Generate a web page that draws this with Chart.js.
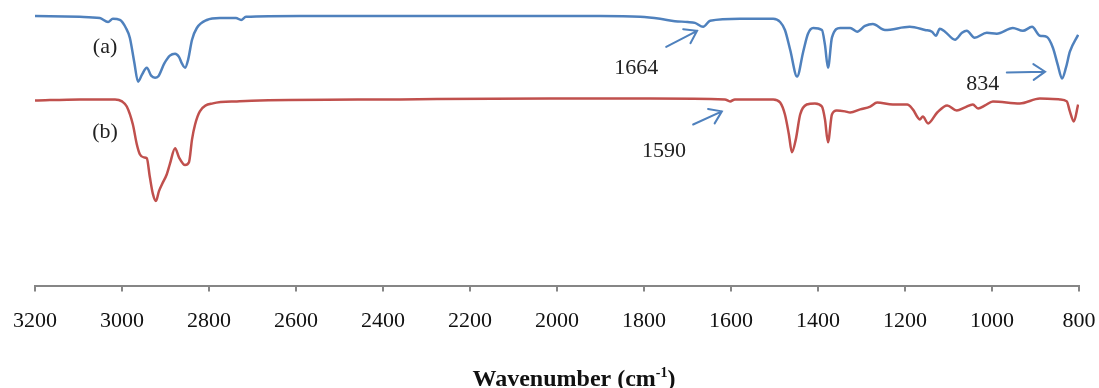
<!DOCTYPE html>
<html>
<head>
<meta charset="utf-8">
<script src="https://cdn.jsdelivr.net/npm/chart.js@4.4.1/dist/chart.umd.min.js"></script>
<style>
  html, body { margin: 0; padding: 0; background: #ffffff; }
  #wrap { width: 1099px; height: 388px; position: relative; }
</style>
</head>
<body>
<div id="wrap"><canvas id="c" width="1099" height="388"></canvas></div>
<script>
// ---- Data (wavenumber in cm-1, transmittance in arbitrary % units) ----
const waveA = [3200,3097,3051,3032,3021,3005,2991,2982,2972,2963,2954,2943,2933,2924,2917,2903,2890,2878,2869,2862,2855,2848,2839,2828,2805,2775,2738,2726,2715,2591,2361,2131,1901,1809,1763,1729,1700,1683,1664,1648,1579,1503,1487,1476,1464,1448,1434,1423,1411,1391,1384,1377,1368,1349,1326,1310,1292,1274,1246,1189,1154,1138,1129,1120,1108,1085,1069,1058,1040,1012,989,952,929,908,890,874,860,849,839,830,821,802];
const transA = [94.4,94.1,93.7,92.3,93.4,93.0,90.2,86.8,78.4,71.4,73.9,76.3,73.5,72.8,73.2,77.7,80.5,81.2,80.1,77.7,76.3,79.1,86.1,90.2,93.0,93.7,93.7,93.0,94.1,94.4,94.4,94.4,94.4,94.1,93.4,92.6,92.3,92.0,90.6,92.7,93.4,93.4,92.3,89.5,82.6,73.2,81.9,88.2,90.2,89.5,84.3,76.3,86.8,90.2,90.2,88.9,90.9,91.6,89.5,90.6,89.5,88.9,87.5,89.9,88.9,86.1,88.5,89.2,86.8,88.5,88.2,90.2,89.2,90.6,87.5,87.1,83.3,77.4,72.5,76.3,81.9,87.8];

const waveB = [3200,3097,3016,3000,2989,2975,2966,2959,2950,2943,2936,2929,2922,2915,2908,2897,2890,2878,2869,2855,2846,2839,2832,2821,2791,2736,2683,2361,2016,1786,1614,1602,1591,1503,1487,1476,1467,1460,1451,1441,1426,1407,1391,1384,1377,1368,1357,1338,1326,1303,1280,1264,1228,1195,1182,1166,1159,1147,1126,1103,1081,1062,1044,1032,1016,998,936,890,844,828,821,812,802];
const transB = [64.8,65.2,65.2,64.5,62.7,56.4,49.5,46.0,44.9,44.6,38.0,32.1,29.6,33.1,35.5,39.0,42.5,48.1,44.9,42.2,43.2,51.2,56.4,61.0,63.8,64.5,64.8,65.2,65.5,65.5,65.2,64.5,65.2,65.2,64.1,59.9,53.0,46.7,51.2,59.9,63.4,63.8,62.7,58.2,50.2,59.9,61.3,61.0,60.6,61.7,62.7,64.1,63.4,63.4,61.7,58.2,59.2,56.8,60.6,63.1,61.3,62.4,63.4,62.0,63.1,64.5,63.8,65.5,65.2,64.5,61.0,57.5,63.4];

const xTicks = [3200,3000,2800,2600,2400,2200,2000,1800,1600,1400,1200,1000,800];
const seriesLabels = ['(a)', '(b)'];
const seriesLabelPos = [[3039, 83.3], [3039, 53.7]];
const peakLabels = ['1664', '1590', '834'];
const peakLabelPos = [[1818, 76.0], [1754, 47.0], [1021, 70.4]];
const arrowTails = [[1749, 83.6], [1687, 56.4], [966, 74.6]];
const arrowHeads = [[1678, 89.2], [1621, 61.0], [878, 74.9]];
const axisTitle = ['Wavenumber (cm', '-1', ')'];

const BLUE = '#4F81BD';
const RED = '#C0504D';
const SERIF = '"Liberation Serif", "Times New Roman", serif';

const toPts = (xs, ys) => xs.map((x, i) => ({ x: x, y: ys[i] }));

const annotPlugin = {
  id: 'annot',
  afterDatasetsDraw(chart) {
    const ctx = chart.ctx;
    const xs = chart.scales.x, ys = chart.scales.y;
    ctx.save();
    ctx.fillStyle = '#222';
    ctx.font = '22px ' + SERIF;
    ctx.textAlign = 'center';
    ctx.textBaseline = 'middle';
    seriesLabels.forEach((t, i) => {
      ctx.fillText(t, xs.getPixelForValue(seriesLabelPos[i][0]), ys.getPixelForValue(seriesLabelPos[i][1]));
    });
    peakLabels.forEach((t, i) => {
      ctx.fillText(t, xs.getPixelForValue(peakLabelPos[i][0]), ys.getPixelForValue(peakLabelPos[i][1]));
    });
    ctx.strokeStyle = BLUE;
    ctx.lineWidth = 2;
    ctx.lineCap = 'round';
    arrowTails.forEach((tail, i) => {
      const x1 = xs.getPixelForValue(tail[0]), y1 = ys.getPixelForValue(tail[1]);
      const x2 = xs.getPixelForValue(arrowHeads[i][0]), y2 = ys.getPixelForValue(arrowHeads[i][1]);
      const ang = Math.atan2(y2 - y1, x2 - x1);
      const L = 14, a = 0.6;
      ctx.beginPath();
      ctx.moveTo(x1, y1); ctx.lineTo(x2, y2);
      ctx.moveTo(x2 - L * Math.cos(ang - a), y2 - L * Math.sin(ang - a));
      ctx.lineTo(x2, y2);
      ctx.lineTo(x2 - L * Math.cos(ang + a), y2 - L * Math.sin(ang + a));
      ctx.stroke();
    });
    const area = chart.chartArea;
    const cx = (area.left + area.right) / 2 + 17;
    const by = 386;
    ctx.fillStyle = '#111';
    ctx.textBaseline = 'alphabetic';
    ctx.textAlign = 'left';
    const mainFont = 'bold 24px ' + SERIF, supFont = 'bold 14px ' + SERIF;
    ctx.font = mainFont; const w1 = ctx.measureText(axisTitle[0]).width; const w3 = ctx.measureText(axisTitle[2]).width;
    ctx.font = supFont; const w2 = ctx.measureText(axisTitle[1]).width;
    let x = cx - (w1 + w2 + w3) / 2;
    ctx.font = mainFont; ctx.fillText(axisTitle[0], x, by); x += w1;
    ctx.font = supFont; ctx.fillText(axisTitle[1], x, by - 9); x += w2;
    ctx.font = mainFont; ctx.fillText(axisTitle[2], x, by);
    ctx.restore();
  }
};

new Chart(document.getElementById('c'), {
  type: 'line',
  data: {
    datasets: [
      { label: '(a)', data: toPts(waveA, transA), borderColor: BLUE, borderWidth: 2.5, pointRadius: 0, cubicInterpolationMode: 'monotone', fill: false },
      { label: '(b)', data: toPts(waveB, transB), borderColor: RED, borderWidth: 2.5, pointRadius: 0, cubicInterpolationMode: 'monotone', fill: false }
    ]
  },
  options: {
    responsive: false,
    animation: false,
    layout: { padding: { left: 35, right: 20, top: 0, bottom: 38 } },
    plugins: { legend: { display: false }, tooltip: { enabled: false }, title: { display: false } },
    scales: {
      x: {
        type: 'linear', reverse: true, min: 800, max: 3200,
        afterBuildTicks: (s) => { s.ticks = xTicks.map(v => ({ value: v })); },
        afterFit: (s) => { s.paddingLeft = 0; s.paddingRight = 0; },
        ticks: { color: '#111', font: { family: SERIF, size: 22 }, padding: 16, maxRotation: 0, autoSkip: false,
                 callback: (v) => String(v) },
        grid: { display: true, drawOnChartArea: false, drawTicks: true, tickLength: 6, color: '#868686', lineWidth: 2 },
        border: { display: true, color: '#868686', width: 2 },
        title: { display: false }
      },
      y: { display: false, min: 0, max: 100 }
    }
  },
  plugins: [annotPlugin]
});
</script>
</body>
</html>
